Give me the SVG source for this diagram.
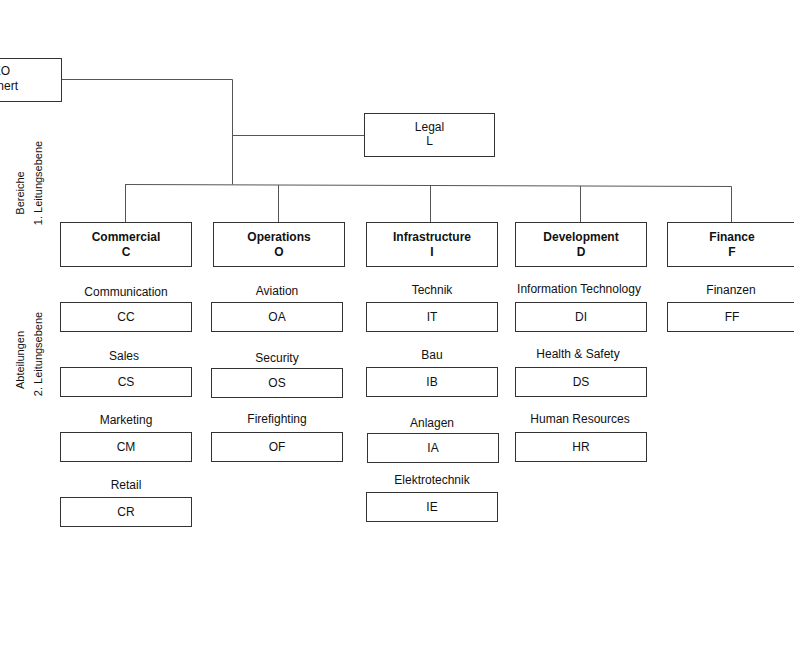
<svg xmlns="http://www.w3.org/2000/svg" width="794" height="645" viewBox="0 0 794 645">
<style>
text{font-family:"Liberation Sans",Arial,sans-serif;font-size:12px;fill:#111;text-anchor:middle}
.b{font-weight:bold}
.n{fill:#fff;stroke:#333;stroke-width:1}
.c line,.c polyline{stroke:#555;stroke-width:1;fill:none}
.v{font-size:11px}
</style>
<g class="c" id="connectors">
<polyline points="62,79.5 232.5,79.5 232.5,184.5"/>
<line x1="232.5" y1="135.5" x2="364" y2="135.5"/>
<line x1="125" y1="184.5" x2="731.5" y2="186.5"/>
<line x1="125.5" y1="184.5" x2="125.5" y2="222"/>
<line x1="278.5" y1="185" x2="278.5" y2="222"/>
<line x1="430.5" y1="185.5" x2="430.5" y2="222"/>
<line x1="580.5" y1="186" x2="580.5" y2="222"/>
<line x1="731.5" y1="186.5" x2="731.5" y2="222"/>
</g>
<g id="ceo"><rect class="n" x="-70.5" y="58.5" width="132" height="43"/><text x="10" y="75" style="text-anchor:end">CEO</text><text x="18" y="90" style="text-anchor:end">nert</text></g>
<g id="legal"><rect class="n" x="364.5" y="113.5" width="130" height="43"/><text x="429.5" y="131">Legal</text><text x="429.5" y="145">L</text></g>
<g id="lbl1"><text class="v" transform="translate(24,193) rotate(-90)">Bereiche</text><text class="v" transform="translate(42,183) rotate(-90)">1. Leitungsebene</text></g>
<g id="lbl2"><text class="v" transform="translate(24,360) rotate(-90)">Abteilungen</text><text class="v" transform="translate(42,354) rotate(-90)">2. Leitungsebene</text></g>
<g id="commercial"><rect class="n" x="60.5" y="222.5" width="131" height="44"/><text class="b" x="126" y="241">Commercial</text><text class="b" x="126" y="256">C</text></g>
<g id="operations"><rect class="n" x="213.5" y="222.5" width="131" height="44"/><text class="b" x="279" y="241">Operations</text><text class="b" x="279" y="256">O</text></g>
<g id="infrastructure"><rect class="n" x="366.5" y="222.5" width="131" height="44"/><text class="b" x="432" y="241">Infrastructure</text><text class="b" x="432" y="256">I</text></g>
<g id="development"><rect class="n" x="515.5" y="222.5" width="131" height="44"/><text class="b" x="581" y="241">Development</text><text class="b" x="581" y="256">D</text></g>
<g id="finance"><rect class="n" x="667.5" y="222.5" width="131" height="44"/><text class="b" x="732" y="241">Finance</text><text class="b" x="732" y="256">F</text></g>
<g id="cc"><text x="126" y="296">Communication</text><rect class="n" x="60.5" y="302.5" width="131" height="29"/><text x="126" y="321">CC</text></g>
<g id="cs"><text x="124" y="360">Sales</text><rect class="n" x="60.5" y="367.5" width="131" height="29"/><text x="126" y="386">CS</text></g>
<g id="cm"><text x="126" y="424">Marketing</text><rect class="n" x="60.5" y="432.5" width="131" height="29"/><text x="126" y="451">CM</text></g>
<g id="cr"><text x="126" y="489">Retail</text><rect class="n" x="60.5" y="497.5" width="131" height="29"/><text x="126" y="516">CR</text></g>
<g id="oa"><text x="277" y="295">Aviation</text><rect class="n" x="211.5" y="302.5" width="131" height="29"/><text x="277" y="321">OA</text></g>
<g id="os"><text x="277" y="362">Security</text><rect class="n" x="211.5" y="368.5" width="131" height="29"/><text x="277" y="387">OS</text></g>
<g id="of"><text x="277" y="423">Firefighting</text><rect class="n" x="211.5" y="432.5" width="131" height="29"/><text x="277" y="451">OF</text></g>
<g id="it"><text x="432" y="294">Technik</text><rect class="n" x="366.5" y="302.5" width="131" height="29"/><text x="432" y="321">IT</text></g>
<g id="ib"><text x="432" y="359">Bau</text><rect class="n" x="366.5" y="367.5" width="131" height="29"/><text x="432" y="386">IB</text></g>
<g id="ia"><text x="432" y="427">Anlagen</text><rect class="n" x="367.5" y="433.5" width="131" height="29"/><text x="433" y="452">IA</text></g>
<g id="ie"><text x="432" y="484">Elektrotechnik</text><rect class="n" x="366.5" y="492.5" width="131" height="29"/><text x="432" y="511">IE</text></g>
<g id="di"><text x="579" y="293">Information Technology</text><rect class="n" x="515.5" y="302.5" width="131" height="29"/><text x="581" y="321">DI</text></g>
<g id="ds"><text x="578" y="358">Health &amp; Safety</text><rect class="n" x="515.5" y="367.5" width="131" height="29"/><text x="581" y="386">DS</text></g>
<g id="hr"><text x="580" y="423">Human Resources</text><rect class="n" x="515.5" y="432.5" width="131" height="29"/><text x="581" y="451">HR</text></g>
<g id="ff"><text x="731" y="294">Finanzen</text><rect class="n" x="667.5" y="302.5" width="131" height="29"/><text x="732" y="321">FF</text></g>
</svg>
